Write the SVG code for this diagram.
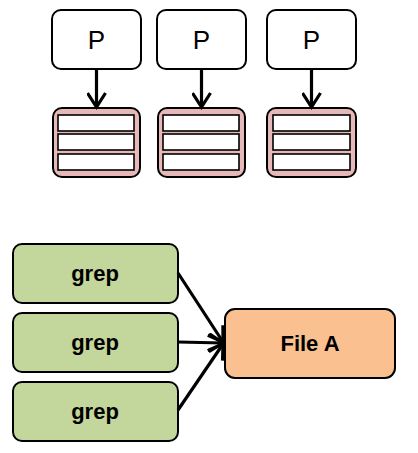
<svg xmlns="http://www.w3.org/2000/svg" width="418" height="453" viewBox="0 0 418 453">
<style>
.p{fill:#fff;stroke:#000;stroke-width:2}
.q{fill:#e6b9b8;stroke:#000;stroke-width:2}
.row{fill:#fff;stroke:#000;stroke-width:1.6}
.g{fill:#c3d69b;stroke:#000;stroke-width:2}
.f{fill:#fac090;stroke:#000;stroke-width:2}
.pt{font-family:"Liberation Sans",Arial,sans-serif;font-size:26px;fill:#000;text-anchor:middle}
.bt{font-family:"Liberation Sans",Arial,sans-serif;font-size:22px;font-weight:bold;fill:#000;text-anchor:middle}
.c{stroke:#000;stroke-width:3.2;fill:none}
</style>
<defs>
<marker id="bh" markerWidth="20" markerHeight="20" refX="16" refY="10" orient="auto" markerUnits="userSpaceOnUse" viewBox="0 0 20 20">
<path d="M2,1 L16,10 L2,19" fill="none" stroke="#000" stroke-width="3.2"/>
</marker>
</defs>
<g id="p1"><rect class="p" x="52" y="10" width="89" height="59" rx="9"/><text class="pt" x="96.5" y="49">P</text></g>
<g id="p2"><rect class="p" x="157" y="10" width="89" height="59" rx="9"/><text class="pt" x="201.5" y="49">P</text></g>
<g id="p3"><rect class="p" x="267" y="10" width="89" height="59" rx="9"/><text class="pt" x="311.5" y="49">P</text></g>
<g id="q1"><rect class="q" x="53" y="108" width="87" height="69" rx="9"/><rect class="row" x="58" y="115" width="76" height="16"/><rect class="row" x="58" y="134" width="76" height="16"/><rect class="row" x="58" y="154" width="76" height="16"/></g>
<g id="q2"><rect class="q" x="158" y="108" width="87" height="69" rx="9"/><rect class="row" x="163" y="115" width="76" height="16"/><rect class="row" x="163" y="134" width="76" height="16"/><rect class="row" x="163" y="154" width="76" height="16"/></g>
<g id="q3"><rect class="q" x="267" y="108" width="89" height="69" rx="9"/><rect class="row" x="273" y="115" width="77" height="16"/><rect class="row" x="273" y="134" width="77" height="16"/><rect class="row" x="273" y="154" width="77" height="16"/></g>
<g id="g1"><rect class="g" x="13" y="244" width="165" height="59" rx="9"/><text class="bt" x="95" y="281">grep</text></g>
<g id="g2"><rect class="g" x="13" y="313" width="165" height="59" rx="9"/><text class="bt" x="95" y="350">grep</text></g>
<g id="g3"><rect class="g" x="13" y="382" width="165" height="59" rx="9"/><text class="bt" x="95" y="419">grep</text></g>
<g id="fa"><rect class="f" x="225" y="309" width="170" height="69" rx="10"/><text class="bt" x="310" y="351">File A</text></g>
<g id="connectors">
<line class="c" x1="96.5" y1="69" x2="96.5" y2="107" marker-end="url(#bh)"/>
<line class="c" x1="201.5" y1="69" x2="201.5" y2="107" marker-end="url(#bh)"/>
<line class="c" x1="311.5" y1="69" x2="311.5" y2="107" marker-end="url(#bh)"/>
<line class="c" x1="178" y1="273" x2="223" y2="342" marker-end="url(#bh)"/>
<line class="c" x1="178" y1="342" x2="223" y2="343" marker-end="url(#bh)"/>
<line class="c" x1="178" y1="410" x2="223" y2="344" marker-end="url(#bh)"/>
</g>
</svg>
